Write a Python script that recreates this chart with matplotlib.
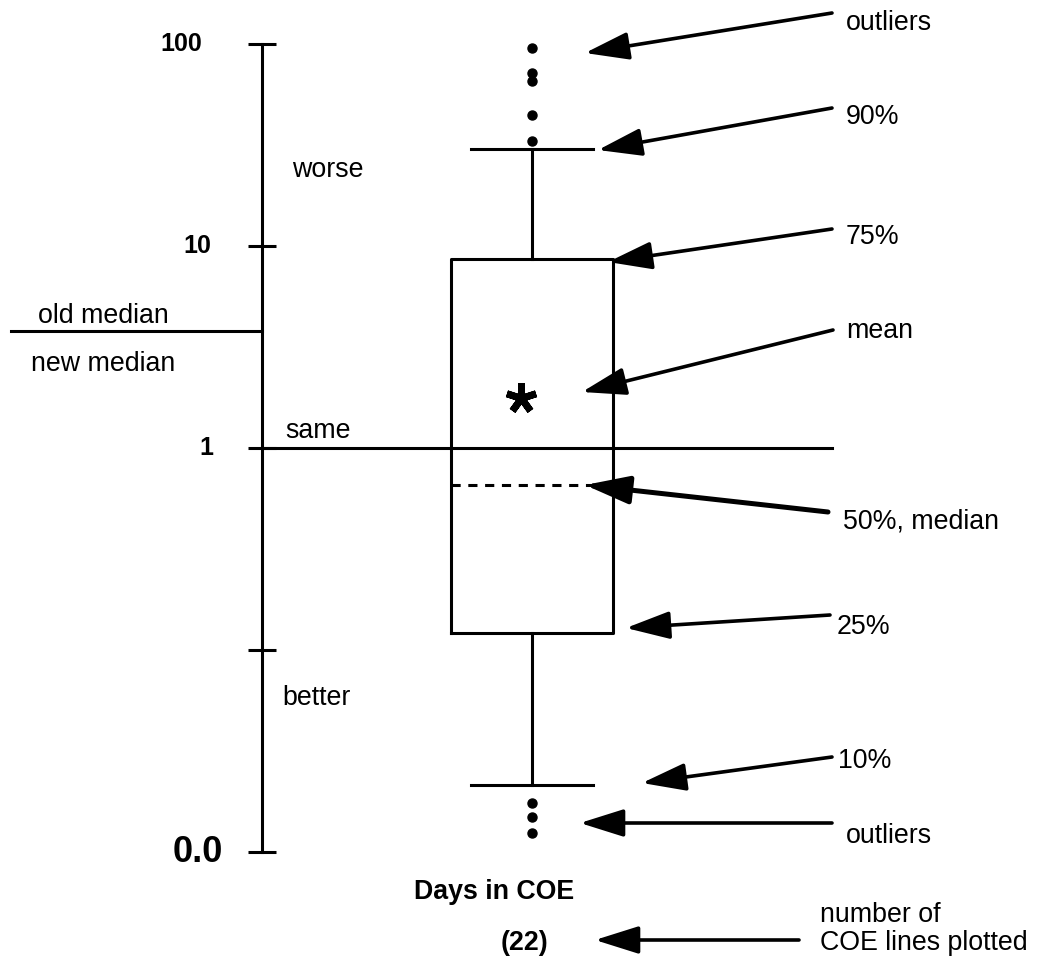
import matplotlib
matplotlib.use("Agg")
import matplotlib.pyplot as plt

plt.rcParams['font.family'] = ['Liberation Sans', 'DejaVu Sans']

# ---- data (log-scale values) ----
tick_values = [100, 10, 1, 0.1, 0.01]
tick_labels = ['100', '10', '1', '', '0.0']
q1 = 0.121
median = 0.656
q3 = 8.62
p10 = 0.0215
p90 = 30.2
mean = 1.77
outliers_high = [95.5, 71.8, 65.6, 44.5, 33.1]
outliers_low = [0.0175, 0.0149, 0.0124]
old_median = 3.8
same_level = 1.0
n_lines = 22

W, H = 1038, 964
fig = plt.figure(figsize=(W / 100, H / 100), dpi=100)
ax = fig.add_axes([0, 0, 1, 1])
ax.set_yscale('log')
ax.set_xlim(0, W)
# 100 -> 44 px from top, 0.01 -> 852 px from top
ax.set_ylim(10 ** (-2 - (H - 852) / 202.0), 10 ** (2 + 44 / 202.0))

for s in ['top', 'right', 'bottom']:
    ax.spines[s].set_visible(False)
AX_X = 262
ax.spines['left'].set_position(('data', AX_X))
ax.spines['left'].set_bounds(min(tick_values), max(tick_values))
ax.spines['left'].set_linewidth(2.2)
ax.set_xticks([])
ax.set_yticks(tick_values)
ax.yaxis.set_minor_locator(matplotlib.ticker.NullLocator())
ax.set_yticklabels([''] * len(tick_values))
ax.tick_params(axis='y', direction='inout', length=20, width=2.2)

label_right = {'100': 202, '10': 211, '1': 213, '': 0, '0.0': 223}
for v, lab in zip(tick_values, tick_labels):
    if not lab:
        continue
    size = 26 if lab == '0.0' else 18
    ax.text(label_right[lab], v, lab, ha='right', va='center', fontsize=size,
            fontweight='bold')

BOX_X = 532
stats = [dict(med=median, q1=q1, q3=q3, whislo=p10, whishi=p90,
              fliers=outliers_high + outliers_low, mean=mean)]
lw = 2.2
ax.bxp(stats, positions=[BOX_X], widths=[162], capwidths=[122],
       showmeans=False, manage_ticks=False,
       boxprops=dict(color='black', linewidth=lw),
       whiskerprops=dict(color='black', linewidth=lw),
       capprops=dict(color='black', linewidth=lw),
       medianprops=dict(color='black', linewidth=lw, linestyle=(0, (3, 2.5))),
       flierprops=dict(marker='o', markerfacecolor='black', markeredgecolor='black',
                       markersize=6.5))
# mean as asterisk
ax.plot([BOX_X - 11], [mean], marker=(5, 2, 0), markersize=22, markeredgewidth=5,
        color='black', linestyle='none')

# reference lines
ax.plot([11, AX_X], [old_median, old_median], color='black', linewidth=lw)
ax.plot([AX_X, 832], [same_level, same_level], color='black', linewidth=lw)

FS = 19.3
ax.text(292, 10 ** ((448 - 170) / 202.0), 'worse', fontsize=FS, va='center')
ax.text(282, 10 ** ((448 - 698) / 202.0), 'better', fontsize=FS, va='center')
ax.text(285, 10 ** ((448 - 431) / 202.0), 'same', fontsize=FS, va='center')
ax.text(38, 10 ** ((448 - 316) / 202.0), 'old median', fontsize=FS, va='center')
ax.text(31, 10 ** ((448 - 364) / 202.0), 'new median', fontsize=FS, va='center')


def fp(x, y):
    return (x, H - y)


def arrow(tail, tip, lw_=2.6):
    ax.annotate('', xy=fp(*tip), xycoords='figure pixels',
                xytext=fp(*tail), textcoords='figure pixels',
                arrowprops=dict(arrowstyle='-|>,head_length=27,head_width=8.5',
                                mutation_scale=1, color='black', linewidth=lw_,
                                shrinkA=0, shrinkB=0))


def label(x, y, s, **kw):
    fig.text(x / W, 1 - y / H, s, fontsize=FS, va='center', **kw)


annots = [
    ('outliers', (846, 23), (832, 13), (585, 53), 2.6),
    ('90%', (846, 117), (832, 108), (598, 150), 2.6),
    ('75%', (846, 237), (832, 229), (608, 262), 2.6),
    ('mean', (846, 331), (833, 330), (582, 392), 2.6),
    ('50%, median', (843, 522), (828, 512), (585, 485), 3.6),
    ('25%', (837, 627), (830, 615), (626, 628), 2.6),
    ('10%', (838, 761), (832, 757), (642, 783), 2.6),
    ('outliers', (846, 836), (832, 823), (580, 823), 2.6),
]
for txt, lpos, tail, tip, l in annots:
    arrow(tail, tip, l)
    label(lpos[0], lpos[1], txt)

arrow((799, 940), (595, 940))
label(820, 915, 'number of')
label(820, 943, 'COE lines plotted')

fig.text(494 / W, 1 - 892 / H, 'Days in COE', fontsize=FS, fontweight='bold',
         ha='center', va='center')
fig.text(525 / W, 1 - 943 / H, f'({n_lines})', fontsize=FS, fontweight='bold',
         ha='center', va='center')

fig.savefig('out.png', dpi=100)
